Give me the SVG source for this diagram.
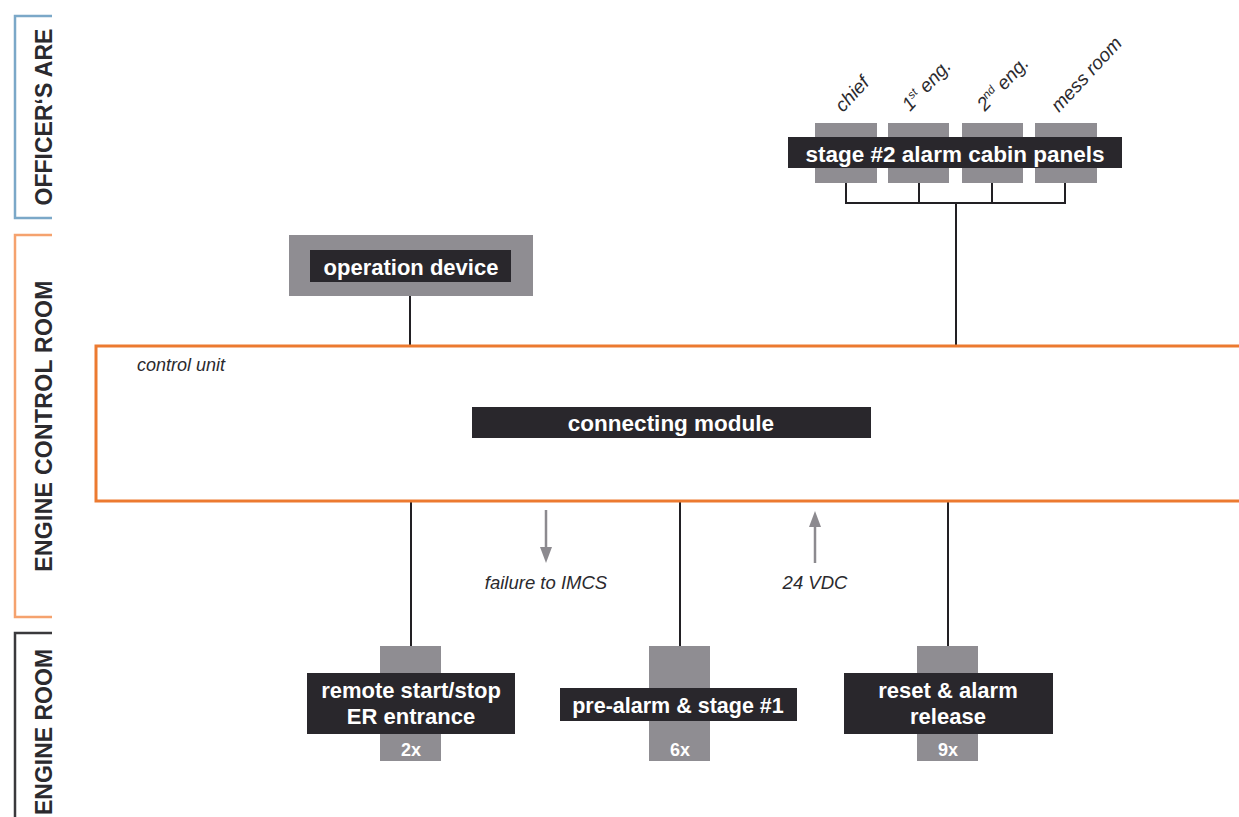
<svg xmlns="http://www.w3.org/2000/svg" width="1239" height="817" viewBox="0 0 1239 817">
<defs>
<style>
.sec{font-family:"Liberation Sans",Arial,sans-serif;font-weight:bold;font-size:23px;fill:#2b2a2e}
.gray{fill:#8f8d92}
.dark{fill:#29272c}
.lbl{font-family:"Liberation Sans",Arial,sans-serif;font-weight:bold;fill:#ffffff;text-anchor:middle}
.it{font-family:"Liberation Sans",Arial,sans-serif;font-style:italic;fill:#2b2a2e}
.wire{stroke:#222024;stroke-width:2;fill:none}
.arr{stroke:#8c8a8f;stroke-width:2.5;fill:none}
</style>
<marker id="ah" markerWidth="16" markerHeight="12" refX="1" refY="6" orient="auto" markerUnits="userSpaceOnUse" viewBox="0 0 16 12">
<path d="M0,0 L16,6 L0,12 Z" fill="#8c8a8f"/>
</marker>
</defs>
<rect width="1239" height="817" fill="#ffffff"/>

<g id="section-officers">
<path d="M52,16 H15 V218 H52" stroke="#7ba8c8" stroke-width="2.5" fill="none"/>
<text class="sec" transform="translate(52,117) rotate(-90)" text-anchor="middle">OFFICER‘S ARE</text>
</g>
<g id="section-ecr">
<path d="M52,235 H15 V617 H52" stroke="#f5a26e" stroke-width="2.5" fill="none"/>
<text class="sec" transform="translate(52,426) rotate(-90)" text-anchor="middle" letter-spacing="0.3">ENGINE CONTROL ROOM</text>
</g>
<g id="section-er">
<path d="M52,633 H15 V817" stroke="#3a393c" stroke-width="2.5" fill="none"/>
<text class="sec" transform="translate(52,732) rotate(-90)" text-anchor="middle">ENGINE ROOM</text>
</g>

<g id="connectors">
<line class="wire" x1="410" y1="296" x2="410" y2="346"/>
<path class="wire" d="M846,183 V203 H1065 V183 M919,183 V203 M992,183 V203 M956,203 V346"/>
<line class="wire" x1="411" y1="501" x2="411" y2="646"/>
<line class="wire" x1="680" y1="501" x2="680" y2="646"/>
<line class="wire" x1="948" y1="501" x2="948" y2="646"/>
<line class="arr" x1="546" y1="510" x2="546" y2="548" marker-end="url(#ah)"/>
<line class="arr" x1="815" y1="563" x2="815" y2="526" marker-end="url(#ah)"/>
<text class="it" x="546" y="589" font-size="18.5" text-anchor="middle">failure to IMCS</text>
<text class="it" x="815" y="589" font-size="18.5" text-anchor="middle">24 VDC</text>
</g>

<g id="control-unit">
<rect x="96" y="346" width="1160" height="155" fill="none" stroke="#ec7a30" stroke-width="3"/>
<text class="it" x="137" y="371" font-size="18">control unit</text>
</g>

<g id="connecting-module">
<rect class="dark" x="472" y="407" width="399" height="31"/>
<text class="lbl" x="671" y="431" font-size="22.5">connecting module</text>
</g>

<g id="operation-device">
<rect class="gray" x="289" y="235" width="244" height="61"/>
<rect class="dark" x="310" y="250" width="201" height="32"/>
<text class="lbl" x="411" y="275" font-size="22">operation device</text>
</g>

<g id="cabin-panels">
<rect class="gray" x="815" y="123" width="62" height="60"/>
<rect class="gray" x="888" y="123" width="61" height="60"/>
<rect class="gray" x="962" y="123" width="61" height="60"/>
<rect class="gray" x="1035" y="123" width="62" height="60"/>
<rect class="dark" x="788" y="137" width="334" height="31"/>
<text class="lbl" x="955" y="162" font-size="22.5">stage #2 alarm cabin panels</text>
<text class="it" font-size="19" transform="translate(843,113) rotate(-47)">chief</text>
<text class="it" font-size="19" transform="translate(910,112) rotate(-47)">1<tspan font-size="11.5" dy="-7">st</tspan><tspan dy="7"> eng.</tspan></text>
<text class="it" font-size="19" transform="translate(985,112) rotate(-47)">2<tspan font-size="11.5" dy="-7">nd</tspan><tspan dy="7"> eng.</tspan></text>
<text class="it" font-size="19" transform="translate(1059,113) rotate(-47)">mess room</text>
</g>

<g id="remote-start-stop">
<rect class="gray" x="380" y="646" width="61" height="115"/>
<rect class="dark" x="307" y="673" width="208" height="61"/>
<text class="lbl" x="411" y="698" font-size="22">remote start/stop</text>
<text class="lbl" x="411" y="724" font-size="22">ER entrance</text>
<text class="lbl" x="411" y="756" font-size="18">2x</text>
</g>

<g id="pre-alarm">
<rect class="gray" x="649" y="646" width="61" height="115"/>
<rect class="dark" x="560" y="688" width="237" height="33"/>
<text class="lbl" x="678" y="713" font-size="21.5">pre-alarm &amp; stage #1</text>
<text class="lbl" x="680" y="756" font-size="18">6x</text>
</g>

<g id="reset-alarm">
<rect class="gray" x="917" y="646" width="61" height="115"/>
<rect class="dark" x="844" y="673" width="209" height="61"/>
<text class="lbl" x="948" y="698" font-size="22">reset &amp; alarm</text>
<text class="lbl" x="948" y="724" font-size="22">release</text>
<text class="lbl" x="948" y="756" font-size="18">9x</text>
</g>
</svg>
